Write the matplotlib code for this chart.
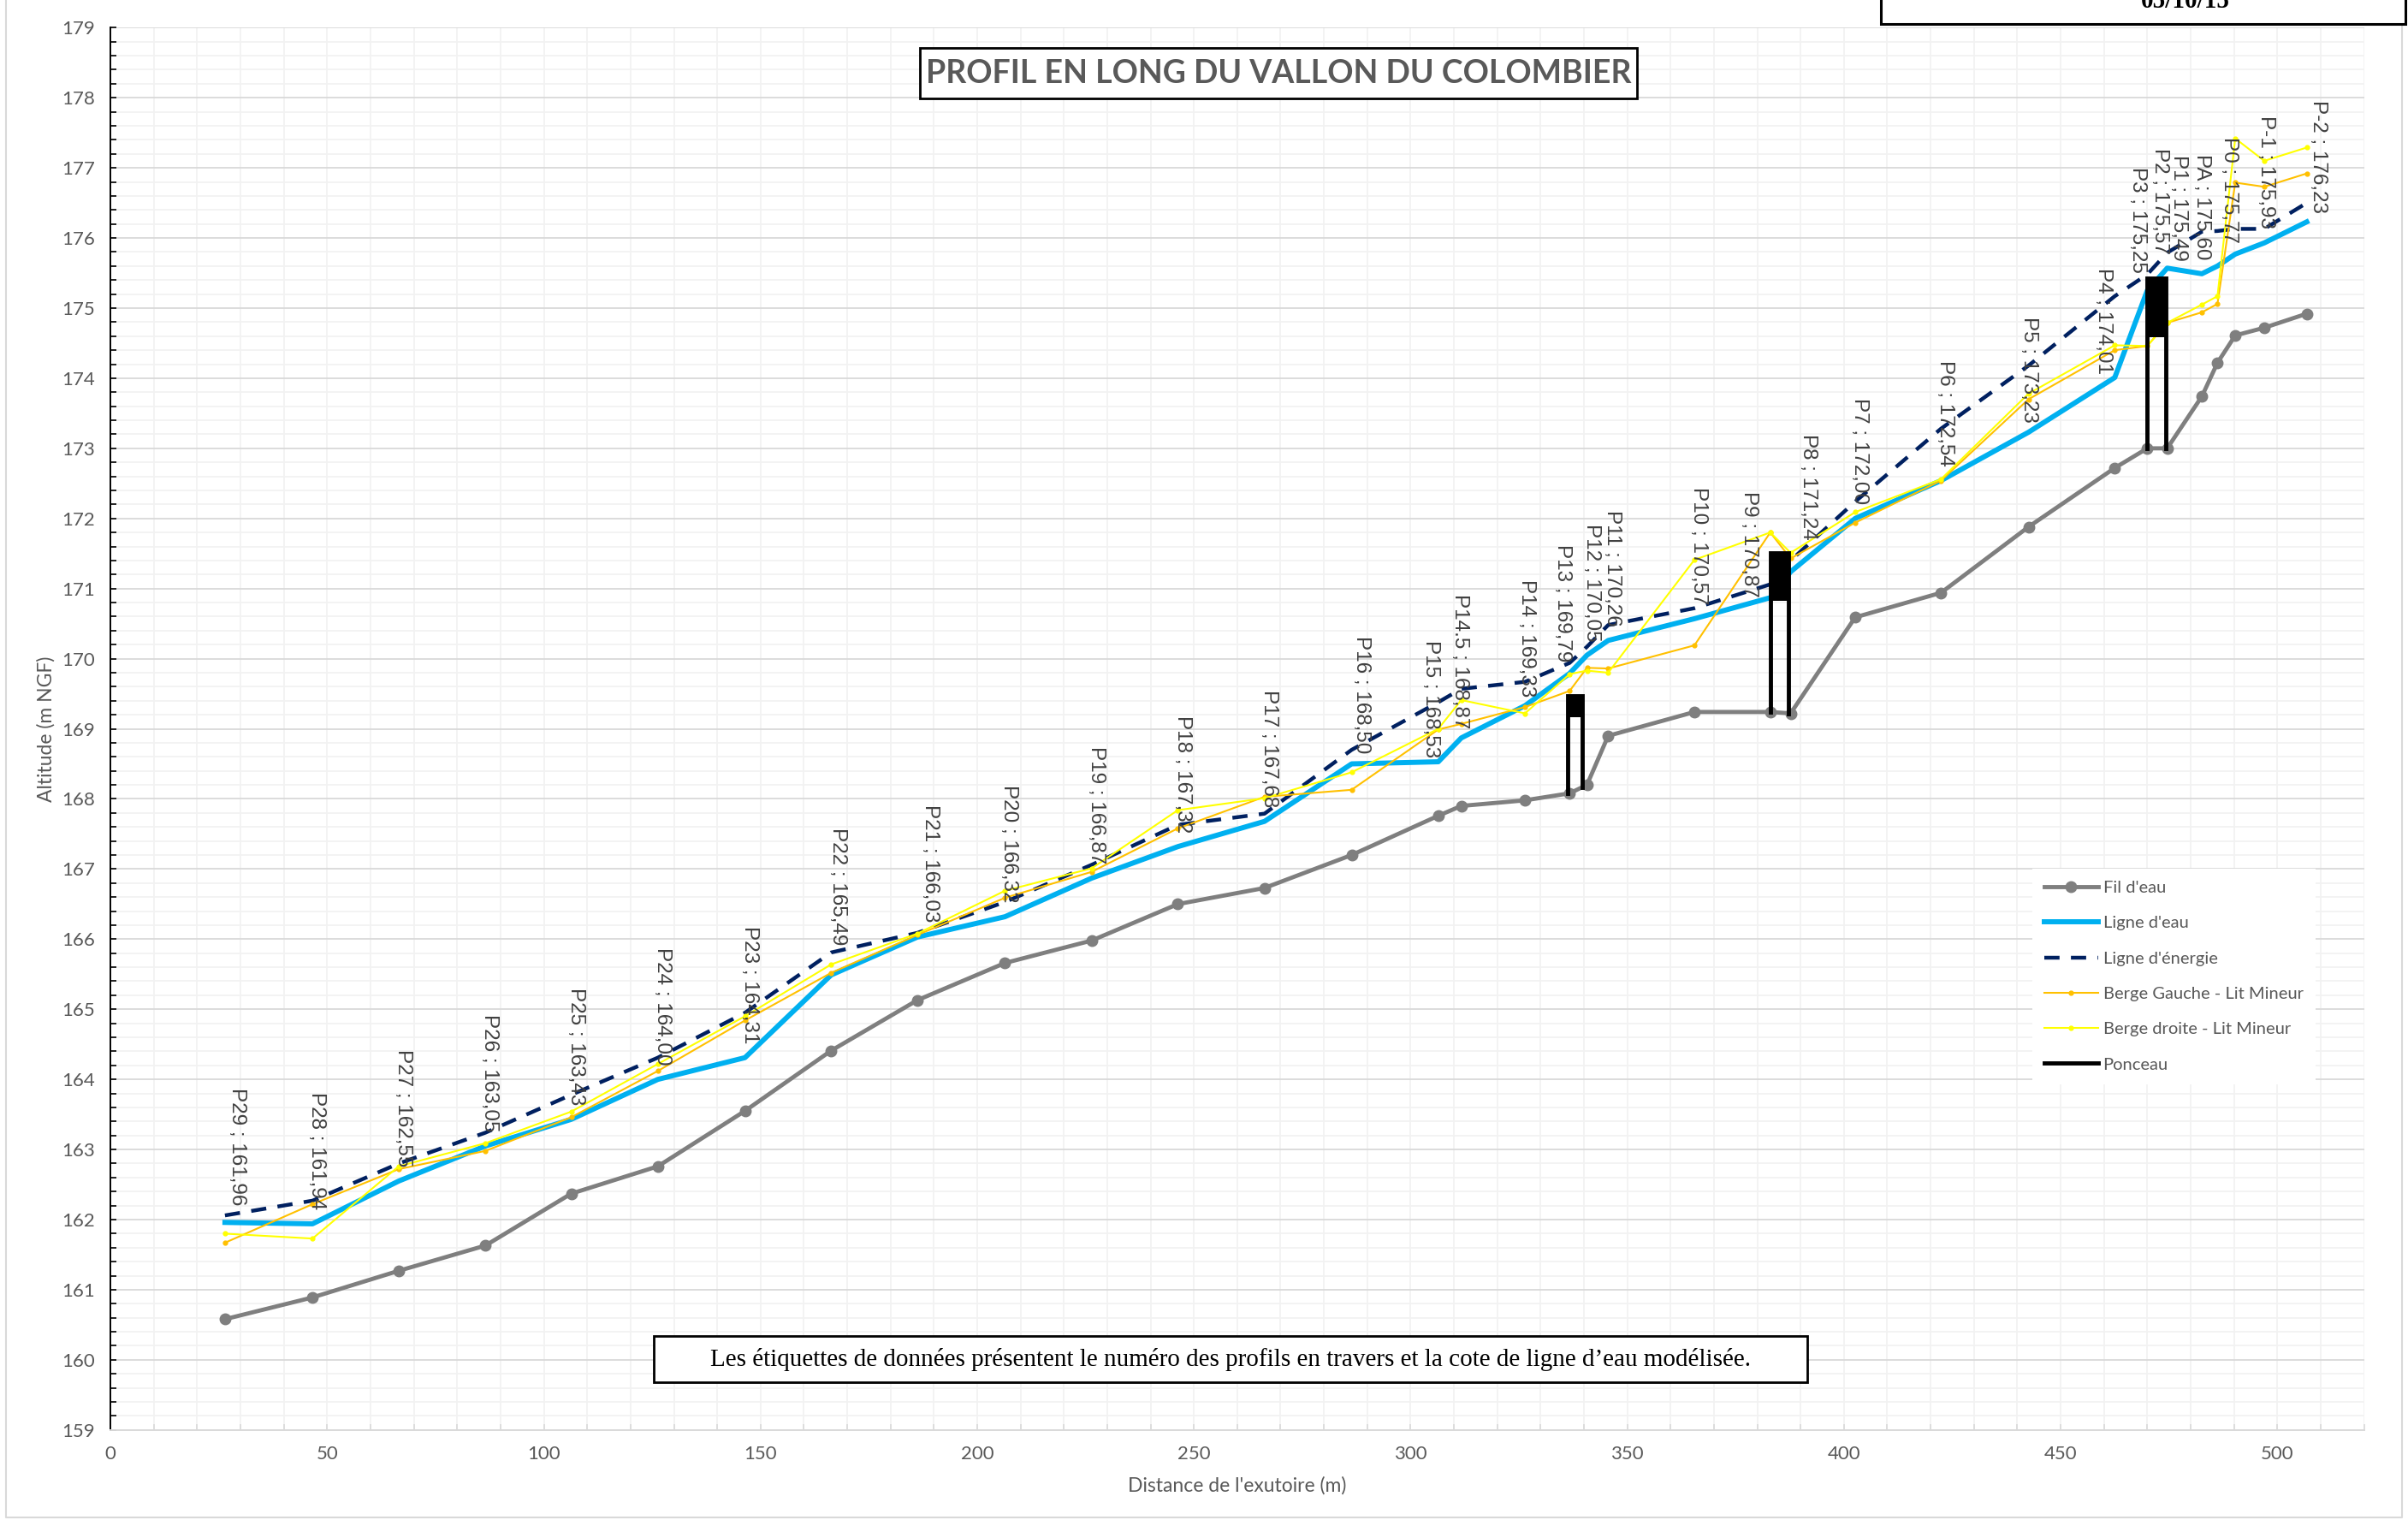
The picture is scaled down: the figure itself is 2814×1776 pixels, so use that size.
import matplotlib
matplotlib.use("Agg")
import matplotlib.pyplot as plt
from matplotlib.patches import Rectangle
from matplotlib.lines import Line2D
from matplotlib.ticker import MultipleLocator

# profils en travers, de l'aval vers l'amont
profils = ["P29", "P28", "P27", "P26", "P25", "P24", "P23", "P22", "P21", "P20",
           "P19", "P18", "P17", "P16", "P15", "P14.5", "P14", "P13", "P12", "P11",
           "P10", "P9", "P8", "P7", "P6", "P5", "P4", "P3", "P2", "P1", "PA",
           "P0", "P-1", "P-2"]
distance = [26.4, 46.6, 66.5, 86.5, 106.3, 126.3, 146.4, 166.3, 186.2, 206.4,
            226.4, 246.3, 266.3, 286.4, 306.4, 311.7, 326.4, 336.7, 340.7, 345.6,
            365.5, 383.0, 387.7, 402.6, 422.4, 442.6, 462.5, 470.0, 474.6, 482.6,
            486.2, 490.3, 497.0, 506.8]
fil_eau = [160.58, 160.89, 161.27, 161.63, 162.37, 162.76, 163.55, 164.41, 165.13, 165.66,
           165.98, 166.50, 166.73, 167.20, 167.76, 167.90, 167.98, 168.08, 168.20, 168.90,
           169.24, 169.24, 169.22, 170.59, 170.94, 171.88, 172.72, 173.00, 173.00, 173.74,
           174.22, 174.61, 174.72, 174.92]
ligne_eau = [161.96, 161.94, 162.55, 163.05, 163.43, 164.00, 164.31, 165.49, 166.03, 166.32,
             166.87, 167.32, 167.68, 168.50, 168.53, 168.87, 169.33, 169.79, 170.05, 170.26,
             170.57, 170.87, 171.24, 172.00, 172.54, 173.23, 174.01, 175.25, 175.57, 175.49,
             175.60, 175.77, 175.93, 176.23]
ligne_energie = [162.06, 162.27, 162.80, 163.24, 163.78, 164.31, 164.95, 165.81, 166.09, 166.53,
                 167.06, 167.63, 167.79, 168.70, 169.38, 169.57, 169.67, 169.94, 170.17, 170.48,
                 170.72, 171.06, 171.40, 172.24, 173.28, 174.18, 175.17, 175.48, 175.79, 176.09,
                 176.10, 176.13, 176.13, 176.50]
berge_gauche = [161.67, 162.22, 162.72, 162.98, 163.46, 164.12, 164.84, 165.52, 166.06, 166.59,
                166.96, 167.58, 168.03, 168.13, 168.99, 169.07, 169.31, 169.54, 169.87, 169.86,
                170.19, 171.80, 171.43, 171.94, 172.54, 173.70, 174.40, 174.46, 174.79, 174.94,
                175.06, 176.79, 176.73, 176.92]
berge_droite = [161.80, 161.73, 162.76, 163.09, 163.54, 164.22, 164.90, 165.64, 166.08, 166.69,
                167.01, 167.84, 168.01, 168.38, 169.00, 169.41, 169.22, 169.78, 169.83, 169.80,
                171.41, 171.80, 171.51, 172.09, 172.56, 173.78, 174.47, 174.46, 174.79, 175.05,
                175.17, 177.42, 177.10, 177.29]

# ponceaux : abscisses des piédroits, radier, sous-face et chaussée
ponceau_gauche = [336.3, 383.0, 470.0]
ponceau_droite = [339.6, 387.2, 474.2]
radier_gauche = [168.08, 169.24, 173.00]
radier_droite = [168.16, 169.22, 173.00]
sous_face = [169.16, 170.82, 174.58]
chaussee = [169.47, 171.51, 175.43]

# décalage manuel de certaines étiquettes (dx en m, dy en m)
decalage_etiquettes = {
    "P29": (2.8, 0.24), "P22": (1.6, 0.43), "P21": (3.0, 0.21), "P16": (2.3, 0.15),
    "P15": (-1.8, 0.06), "P14.5": (-0.3, 0.13), "P14": (0.4, 0.12), "P13": (-1.6, 0.17),
    "P9": (-4.9, 0.01), "P8": (4.0, 0.45), "P5": (0.0, 0.13), "P4": (-2.6, 0.05),
    "P3": (-2.3, 0.25), "P2": (-1.6, 0.20), "P1": (-5.3, 0.18), "PA": (-3.6, 0.09),
    "P0": (-1.5, 0.16), "P-1": (0.3, 0.20), "P-2": (2.7, 0.13),
}

W, H = 2814, 1776
fig = plt.figure(figsize=(W / 100, H / 100), dpi=100)
ax = fig.add_axes([129.2 / W, 1 - 1670.8 / H, 2633.3 / W, 1638.5 / H])

gris = "#595959"
ax.plot(distance, fil_eau, color="#7F7F7F", lw=3.5, marker="o", markersize=9,
        label="Fil d'eau", zorder=3)
ax.plot(distance, ligne_eau, color="#00B0F0", lw=4.3, label="Ligne d'eau", zorder=4)
ax.plot(distance, ligne_energie, color="#002060", lw=3.2, dashes=(4, 3),
        label="Ligne d'énergie", zorder=5)
ax.plot(distance, berge_gauche, color="#FFC000", lw=1.5, marker="o", markersize=3.5,
        label="Berge Gauche - Lit Mineur", zorder=6)
ax.plot(distance, berge_droite, color="#FFFF00", lw=1.5, marker="o", markersize=3.5,
        label="Berge droite - Lit Mineur", zorder=7)

for i in range(len(ponceau_gauche)):
    g, d = ponceau_gauche[i], ponceau_droite[i]
    ax.plot([g, g, d, d], [radier_gauche[i], chaussee[i], chaussee[i], radier_droite[i]],
            color="black", lw=3.5, solid_joinstyle="miter", zorder=8,
            label="Ponceau" if i == 0 else None)
    ax.fill_between([g, d], sous_face[i], chaussee[i], color="black", lw=0, zorder=8)

for nom, x, z in zip(profils, distance, ligne_eau):
    dx, dy = decalage_etiquettes.get(nom, (1.0, 0.2))
    txt = nom + " ; " + f"{z:.2f}".replace(".", ",")
    ax.text(x + dx, z + dy, txt, rotation=270, ha="center", va="bottom",
            fontsize=17.5, family="Liberation Sans", color="#404040", zorder=9)

ax.set_xlim(0, 520)
ax.set_ylim(159, 179)
ax.set_xticks(range(0, 501, 50))
ax.set_yticks(range(159, 180))
ax.xaxis.set_minor_locator(MultipleLocator(10))
ax.yaxis.set_minor_locator(MultipleLocator(0.2))
ax.grid(which="major", axis="y", color="#D9D9D9", lw=1.3, zorder=0)
ax.grid(which="minor", axis="y", color="#F2F2F2", lw=1.3, zorder=0)
ax.grid(which="both", axis="x", color="#F2F2F2", lw=1.3, zorder=0)
ax.set_axisbelow(True)

for s in ["top", "right"]:
    ax.spines[s].set_visible(False)
ax.spines["left"].set_color("black")
ax.spines["left"].set_linewidth(1.4)
ax.spines["bottom"].set_color("#D9D9D9")
ax.spines["bottom"].set_linewidth(1.4)

ax.tick_params(axis="y", which="both", direction="in", color="black", length=5, width=1.2)
ax.tick_params(axis="y", which="major", pad=13, labelsize=16, labelcolor=gris)
ax.tick_params(axis="x", which="both", direction="in", color="#D9D9D9", length=5, width=1.2)
ax.tick_params(axis="x", which="major", pad=13, labelsize=16, labelcolor=gris)
for lab in ax.get_xticklabels() + ax.get_yticklabels():
    lab.set_family("Lato")

ax.set_xlabel("Distance de l'exutoire (m)", fontsize=16.5, color=gris, family="Lato")
ax.set_ylabel("Altitude (m NGF)", fontsize=16.5, color=gris, family="Lato")
ax.xaxis.set_label_coords(0.5, -0.0394)
ax.yaxis.set_label_coords(-0.0286, 0.5)
ax.xaxis.label.set_va("center")
ax.yaxis.label.set_va("center")

leg = ax.legend(loc="upper left", bbox_to_anchor=(2375 / W, 1 - 1015 / H),
                bbox_transform=fig.transFigure, frameon=True, facecolor="white",
                edgecolor="none", framealpha=1, fancybox=False, borderaxespad=0,
                borderpad=0.7, handlelength=3.1, handletextpad=0.3, labelspacing=1.2,
                prop={"family": "Lato", "size": 14.5})
for t in leg.get_texts():
    t.set_color(gris)
leg.set_zorder(10)

# titre encadré
fig.add_artist(Rectangle((1075 / W, 1 - 115 / H), 838 / W, 59 / H, transform=fig.transFigure,
                         facecolor="white", edgecolor="black", lw=2, zorder=5))
fig.text(1494 / W, 1 - 86 / H, "PROFIL EN LONG DU VALLON DU COLOMBIER", ha="center",
         va="center", fontsize=27, fontweight="bold", family="Lato", color=gris, zorder=6)

# note sur les étiquettes
fig.add_artist(Rectangle((764.5 / W, 1 - 1615 / H), 1347.5 / W, 54 / H,
                         transform=fig.transFigure, facecolor="white", edgecolor="black",
                         lw=2, zorder=5))
fig.text(1438 / W, 1 - 1588 / H,
         "Les étiquettes de données présentent le numéro des profils en travers "
         "et la cote de ligne d\u2019eau modélisée.",
         ha="center", va="center", fontsize=21, family="Liberation Serif",
         color="black", zorder=6)

# cartouche de date en haut à droite
fig.add_artist(Rectangle((2198 / W, 1 - 28 / H), 613 / W, 0.05, transform=fig.transFigure,
                         facecolor="white", edgecolor="black", lw=2.2, zorder=5))
fig.text(2554 / W, 1 - 9 / H, "05/10/15", ha="center", va="baseline", fontsize=21,
         fontweight="bold", family="Liberation Serif", color="black", zorder=6)

# bordure de la zone de graphique
fig.add_artist(Line2D([7 / W, 7 / W, 2807 / W, 2807 / W], [1, 3 / H, 3 / H, 1 - 30 / H],
                      transform=fig.transFigure, color="#D9D9D9", lw=1.5))

fig.savefig("out.png", dpi=100)
